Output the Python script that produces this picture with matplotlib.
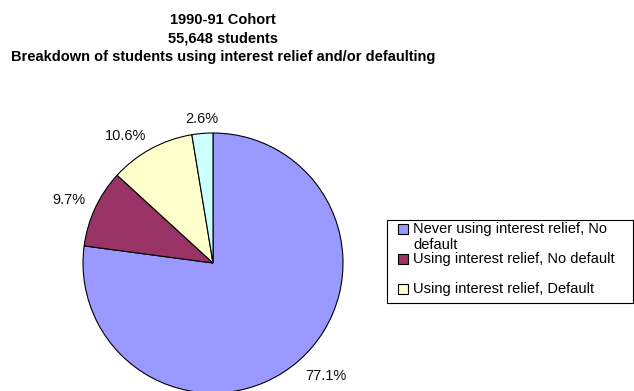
import matplotlib
matplotlib.use("Agg")
import matplotlib.pyplot as plt
import numpy as np
from matplotlib.patches import Rectangle

# cohort breakdown (percent of students)
categories = ["Never using interest relief, No default",
              "Using interest relief, No default",
              "Using interest relief, Default",
              "Never using interest relief, Default"]
shares = [77.1, 9.7, 10.6, 2.6]
colors = ["#9999FF", "#993366", "#FFFFCC", "#CCFFFF"]

title_lines = ["1990-91 Cohort",
               "55,648 students",
               "Breakdown of students using interest relief and/or defaulting"]
# legend box only has room for the first three entries
legend_lines = [["Never using interest relief, No", "default"],
                ["Using interest relief, No default"],
                ["Using interest relief, Default"]]

plt.rcParams['font.family'] = ['Liberation Sans', 'DejaVu Sans']

W, H = 634, 391
fig = plt.figure(figsize=(W / 100, H / 100), dpi=100)
ax = fig.add_axes([0, 0, 1, 1])

# pie centre / radius in pixels (from bottom-left)
cx, cy, r = 213, 128, 130

wedges, texts, autotexts = ax.pie(
    shares, colors=colors, startangle=90, counterclock=False,
    autopct='%.1f%%', pctdistance=1.2,
    wedgeprops=dict(edgecolor='black', linewidth=0.8),
    textprops=dict(fontsize=10.5, color='#111111'))

# put each label just outside its wedge, box corner facing the pie
for w, t in zip(wedges, autotexts):
    ang = np.deg2rad((w.theta1 + w.theta2) / 2)
    c, s = np.cos(ang), np.sin(ang)
    t.set_position((1.08 * c, 1.08 * s))
    t.set_ha('right' if c < -0.1 else 'left' if c > 0.1 else 'center')
    t.set_va('baseline' if s > 0 else 'top')

ax.set_xlim(-cx / r, (W - cx) / r)
ax.set_ylim(-cy / r, (H - cy) / r)
ax.set_aspect('auto')
ax.axis('off')

# title
for j, line in enumerate(title_lines):
    fig.text(223 / W, 1 - (20 + 18.5 * j) / H, line, ha='center', va='center',
             fontsize=10.5, fontweight='bold')

# legend drawn by hand (marker lines up with the first text line)
fig.add_artist(Rectangle((387 / W, (H - 303) / H), (633 - 387) / W, (303 - 220) / H,
                         transform=fig.transFigure, fill=False,
                         edgecolor='black', linewidth=0.8))
for i, (lines, col) in enumerate(zip(legend_lines, colors)):
    y = 229 + 30 * i
    fig.add_artist(Rectangle((398 / W, (H - y - 5) / H), 10 / W, 10 / H,
                             transform=fig.transFigure, facecolor=col,
                             edgecolor='black', linewidth=0.8))
    for k, txt in enumerate(lines):
        fig.text(413 / W, 1 - (y + 16 * k) / H, txt, ha='left', va='center',
                 fontsize=10.5)

fig.savefig('out.png', dpi=100)
